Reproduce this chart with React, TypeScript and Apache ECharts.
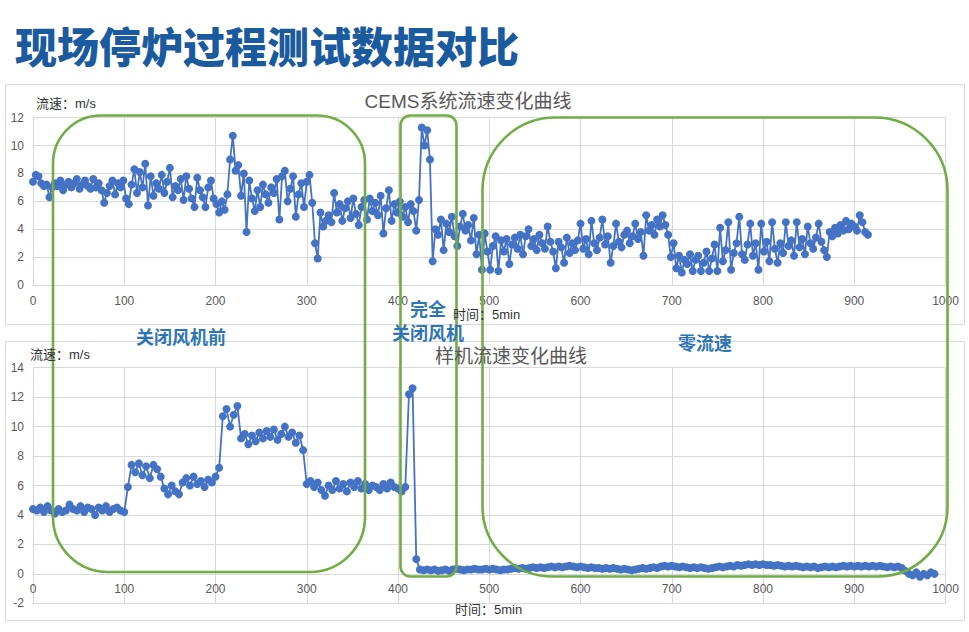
import React, { useEffect, useRef } from "react";
import * as echarts from "echarts";

// ---------------- data ----------------
const TOP_STEP = 3; // time index step between samples (x 0..915)
const topValues: number[] = [
  7.4, 7.9, 7.8, 7.3, 7.1, 7.2, 6.3, 7.0, 7.3, 7.1,
  7.5, 6.8, 7.2, 7.4, 7.0, 7.3, 7.6, 6.9, 7.2, 7.5,
  7.1, 6.9, 7.6, 7.0, 7.3, 6.8, 5.9, 6.6, 7.1, 7.5,
  6.5, 7.3, 7.0, 7.5, 6.2, 5.8, 7.2, 8.3, 6.6, 8.1,
  7.0, 8.7, 5.7, 7.8, 6.4, 7.3, 6.9, 7.9, 6.6, 7.4,
  8.4, 6.3, 7.1, 6.8, 7.6, 6.1, 7.8, 6.9, 6.2, 5.6,
  7.7, 6.8, 6.3, 5.6, 7.0, 7.5, 6.2, 5.8, 5.2, 6.0,
  5.4, 6.5, 9.0, 10.7, 8.2, 8.6, 6.4, 8.0, 3.8, 7.5,
  6.2, 5.3, 6.8, 5.6, 7.2, 6.5, 5.9, 7.0, 6.6, 7.6,
  4.7, 7.8, 8.2, 6.0, 6.9, 7.8, 4.9, 6.5, 7.3, 5.6,
  7.4, 7.9, 5.9, 3.0, 1.9, 5.2, 4.2, 4.6, 5.0, 4.5,
  6.6, 5.2, 5.8, 4.6, 5.5, 6.0, 4.8, 6.2, 5.1, 4.3,
  5.6, 6.1, 4.7, 6.2, 5.3, 5.9, 5.0, 6.4, 3.7, 5.5,
  6.8, 4.6, 5.8, 5.2, 6.0, 4.9, 5.6, 4.5, 5.8, 5.3,
  3.9, 6.1, 11.3, 10.0, 11.1, 9.0, 1.7, 4.0, 3.6, 4.7,
  2.5, 4.4, 3.8, 4.9, 3.5, 2.8, 4.2, 5.1, 3.9, 4.3,
  3.2, 4.8, 2.2, 3.6, 1.1, 3.7, 2.4, 1.1, 2.8, 3.5,
  1.0, 3.2, 2.4, 3.3, 1.5, 2.9, 3.4, 2.6, 3.6, 2.2,
  3.5, 4.0, 2.8, 3.3, 2.5, 3.6, 3.0, 2.6, 4.2, 3.1,
  2.4, 1.2, 3.1, 2.7, 1.6, 3.4, 2.3, 3.0, 2.5, 3.2,
  4.4, 2.6, 3.3, 2.2, 4.6, 3.0, 2.5, 3.4, 4.7, 2.9,
  3.5, 1.6, 2.8, 4.4, 3.1, 2.7, 3.6, 3.9, 3.0, 3.5,
  4.4, 3.3, 3.8, 2.1, 5.0, 3.9, 4.3, 3.6, 4.7, 4.2,
  5.0, 4.3, 3.6, 2.0, 3.0, 1.2, 2.1, 0.9, 1.8, 1.5,
  2.2, 1.0, 1.8, 2.1, 1.0, 1.6, 2.4, 1.0, 1.9, 2.9,
  1.0, 4.1, 1.7, 2.5, 4.5, 1.1, 2.3, 3.0, 4.9, 2.2,
  1.8, 2.9, 4.4, 2.1, 3.0, 1.1, 4.4, 2.4, 3.1, 1.7,
  4.5, 2.6, 1.6, 3.0, 2.3, 4.5, 2.8, 3.2, 2.1, 4.5,
  2.7, 3.3, 2.2, 4.2, 3.0, 2.6, 3.4, 4.4, 3.1, 2.5,
  2.0, 3.8, 3.5, 4.1, 3.7, 4.3, 3.9, 4.6, 4.0, 4.4,
  4.2, 3.9, 5.0, 4.5, 3.8, 3.6,
];

const BOTTOM_STEP = 4; // x 0..988
const bottomValues: number[] = [
  4.4, 4.3, 4.5, 4.2, 4.6, 4.3, 4.1, 4.4, 4.2, 4.3,
  4.7, 4.4, 4.3, 4.6, 4.2, 4.5, 4.4, 4.0, 4.5, 4.3,
  4.6, 4.2, 4.4, 4.5, 4.3, 4.2, 5.9, 7.4, 6.9, 7.5,
  6.7, 7.3, 6.5, 7.4, 7.1, 6.6, 5.8, 5.4, 6.0, 5.6,
  5.4, 6.2, 6.5, 6.0, 6.6, 6.1, 6.3, 5.9, 6.4, 6.2,
  6.6, 7.2, 10.7, 11.2, 10.0, 10.8, 11.4, 9.2, 9.5, 8.8,
  9.4, 9.0, 9.6, 9.2, 9.7, 9.3, 9.8, 9.1, 9.5, 10.0,
  9.3, 9.6, 8.9, 9.4, 8.4, 6.1, 6.3, 5.9, 6.2, 5.7,
  5.3, 6.0, 5.7, 6.3, 5.8, 6.1, 5.6, 6.2, 5.9, 6.3,
  5.8, 6.1, 5.7, 6.0, 5.9, 5.7, 6.1, 5.8, 6.2, 5.9,
  5.8, 5.6, 5.9, 12.2, 12.6, 1.0, 0.3, 0.25, 0.3, 0.25,
  0.3, 0.2, 0.25, 0.3, 0.2, 0.3, 0.35, 0.3, 0.25, 0.3,
  0.3, 0.35, 0.3, 0.3, 0.35, 0.3, 0.35, 0.3, 0.25, 0.3,
  0.3, 0.35, 0.4, 0.35, 0.4, 0.35, 0.4, 0.45, 0.4, 0.45,
  0.4, 0.45, 0.5, 0.45, 0.5, 0.45, 0.5, 0.55, 0.5, 0.45,
  0.5, 0.45, 0.4, 0.45, 0.4, 0.4, 0.35, 0.4, 0.35, 0.4,
  0.35, 0.3, 0.35, 0.3, 0.25, 0.3, 0.35, 0.4, 0.35, 0.4,
  0.45, 0.4, 0.5, 0.55, 0.5, 0.55, 0.5, 0.45, 0.5, 0.45,
  0.4, 0.45, 0.4, 0.45, 0.4, 0.35, 0.4, 0.45, 0.5, 0.45,
  0.5, 0.55, 0.5, 0.6, 0.55, 0.6, 0.65, 0.6, 0.65, 0.6,
  0.65, 0.6, 0.6, 0.55, 0.6, 0.55, 0.5, 0.55, 0.5, 0.55,
  0.5, 0.45, 0.5, 0.45, 0.5, 0.4, 0.45, 0.5, 0.45, 0.5,
  0.45, 0.5, 0.55, 0.5, 0.55, 0.5, 0.55, 0.5, 0.55, 0.5,
  0.55, 0.5, 0.55, 0.5, 0.45, 0.5, 0.45, 0.5, 0.4, 0.2,
  0.0, -0.1, 0.1, -0.2, 0.0, -0.1, 0.1, 0.0,
];

const xTicks = { min: 0, max: 1000, interval: 100 };
const topY = { min: 0, max: 12, interval: 2 };
const bottomY = { min: -2, max: 14, interval: 2 };

const pageTitle = "现场停炉过程测试数据对比";
const topTitle = "CEMS系统流速变化曲线";
const bottomTitle = "样机流速变化曲线";
const yName = "流速：m/s";
const xName = "时间：5min";
const stageLabels = ["关闭风机前", "完全", "关闭风机", "零流速"];

// ---------------- styles ----------------
const LINE_BLUE = "#4472C4";
const GRID_GREY = "#D9D9D9";
const TEXT_GREY = "#595959";
const GREEN = "#70AD47";
const LABEL_BLUE = "#2E75B6";
const FONT = "'Liberation Sans', 'Noto Sans CJK SC', sans-serif";
const CJK = "'Noto Sans CJK SC', sans-serif";

function txt(text: string, x: number, y: number, size: number, color: string, opts: any = {}) {
  return {
    type: "text",
    x,
    y,
    z: 100,
    style: {
      text,
      fill: color,
      fontSize: size,
      fontFamily: opts.family || FONT,
      fontWeight: opts.weight || "normal",
      textAlign: opts.align || "left",
      align: opts.align || "left",
      textVerticalAlign: "middle",
      verticalAlign: "middle",
    },
  };
}

function greenBox(x: number, y: number, w: number, h: number, r: number[]) {
  return {
    type: "rect",
    z: 90,
    shape: { x, y, width: w, height: h, r },
    style: { fill: "none", stroke: GREEN, lineWidth: 2.6 },
  };
}

export default function App() {
  const ref = useRef<HTMLDivElement>(null);

  useEffect(() => {
    if (!ref.current) return;
    const chart = echarts.init(ref.current, null, { renderer: "svg" });

    const topData = topValues.map((v, i) => [i * TOP_STEP, v]);
    const bottomData = bottomValues.map((v, i) => [i * BOTTOM_STEP, v]);

    const labelStyle = (show: boolean, margin: number) => ({
      show,
      color: TEXT_GREY,
      fontSize: 12,
      fontFamily: FONT,
      margin,
      formatter: (v: number) => String(v),
    });

    const xAxisBase = (gridIndex: number, showLabel: boolean, showSplit: boolean) => ({
      type: "value",
      gridIndex,
      ...xTicks,
      axisLine: { show: showSplit, onZero: false, lineStyle: { color: GRID_GREY, width: 1 } },
      axisTick: { show: false },
      axisLabel: labelStyle(showLabel, 10),
      splitLine: { show: showSplit, lineStyle: { color: GRID_GREY, width: 1 } },
    });
    const yAxisBase = (gridIndex: number, r: any, show = true) => ({
      type: "value",
      gridIndex,
      show,
      ...r,
      axisLine: { show: true, lineStyle: { color: GRID_GREY, width: 1 } },
      axisTick: { show: false },
      axisLabel: labelStyle(true, 9),
      splitLine: { show: true, lineStyle: { color: GRID_GREY, width: 1 } },
    });

    const seriesBase = {
      type: "line",
      symbol: "circle",
      symbolSize: 8,
      showSymbol: true,
      showAllSymbol: true,
      lineStyle: { color: LINE_BLUE, width: 1.8 },
      itemStyle: { color: LINE_BLUE },
      emphasis: { disabled: true },
      z: 5,
    };

    chart.setOption({
      animation: false,
      backgroundColor: "#ffffff",
      grid: [
        { left: 33, width: 912.5, top: 117.7, height: 167.3 },
        { left: 33, width: 912.5, top: 367.7, height: 235.6 },
        // zero-line label strip for the lower chart (labels sit on the 0 line)
        { left: 33, width: 912.5, top: 572.9, height: 1 },
      ],
      xAxis: [
        xAxisBase(0, true, true),
        xAxisBase(1, false, true),
        { ...xAxisBase(2, true, false), axisLabel: labelStyle(true, 9) },
      ],
      yAxis: [
        yAxisBase(0, topY),
        yAxisBase(1, bottomY),
        yAxisBase(2, { min: 0, max: 1 }, false),
      ],
      series: [
        { ...seriesBase, xAxisIndex: 0, yAxisIndex: 0, data: topData },
        { ...seriesBase, xAxisIndex: 1, yAxisIndex: 1, data: bottomData },
      ],
      graphic: [
        // panel borders
        {
          type: "rect",
          z: 0,
          shape: { x: 5.5, y: 84.5, width: 959, height: 240 },
          style: { fill: "none", stroke: GRID_GREY, lineWidth: 1 },
        },
        {
          type: "rect",
          z: 0,
          shape: { x: 5.5, y: 341.5, width: 959, height: 279 },
          style: { fill: "none", stroke: GRID_GREY, lineWidth: 1 },
        },
        txt(pageTitle, 15, 44, 42, "#1A5A9E", { family: CJK, weight: 900 }),
        txt(topTitle, 468, 101, 19, TEXT_GREY, { align: "center" }),
        txt(bottomTitle, 511, 356, 19, TEXT_GREY, { align: "center" }),
        txt(yName, 36, 103, 13, "#333333"),
        txt(yName, 30, 354, 13, "#333333"),
        txt(xName, 453, 314, 13, "#333333"),
        txt(xName, 455, 609, 13, "#333333"),
        greenBox(53, 115.5, 312, 456.5, [48, 48, 55, 55]),
        greenBox(400.5, 115.5, 56, 461, [10, 10, 10, 10]),
        greenBox(482.5, 117.5, 465, 459, [73, 73, 70, 70]),
        txt(stageLabels[0], 181, 336, 18, LABEL_BLUE, { family: CJK, weight: "bold", align: "center" }),
        txt(stageLabels[1], 428, 308, 18, LABEL_BLUE, { family: CJK, weight: "bold", align: "center" }),
        txt(stageLabels[2], 428, 332, 18, LABEL_BLUE, { family: CJK, weight: "bold", align: "center" }),
        txt(stageLabels[3], 705, 342, 18, LABEL_BLUE, { family: CJK, weight: "bold", align: "center" }),
      ],
    });

    return () => chart.dispose();
  }, []);

  return (
    <div
      ref={ref}
      style={{ position: "fixed", left: 0, top: 0, width: 969, height: 632, background: "#fff" }}
    />
  );
}
